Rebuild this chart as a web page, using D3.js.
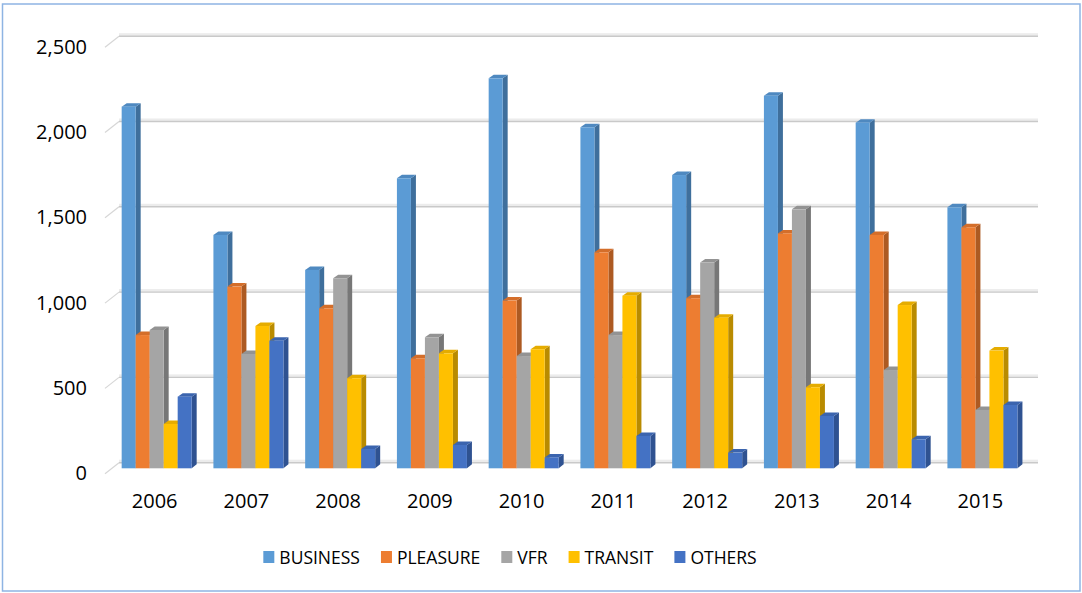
<!DOCTYPE html>
<html>
<head>
<meta charset="utf-8">
<script src="https://cdn.jsdelivr.net/npm/d3@7"></script>
<style>
  html, body { margin: 0; padding: 0; background: #ffffff; }
  svg { display: block; }
  text { font-family: "Open Sans", "Noto Sans", sans-serif; fill: #000000; }
</style>
</head>
<body>
<svg id="chart" width="1082" height="593"></svg>
<script>
// ---- data ----
const years = ["2006","2007","2008","2009","2010","2011","2012","2013","2014","2015"];
const seriesNames = ["BUSINESS","PLEASURE","VFR","TRANSIT","OTHERS"];
const business = [2120, 1368, 1163, 1700, 2286, 1999, 1719, 2184, 2026, 1530];
const pleasure = [781, 1065, 938, 645, 983, 1266, 997, 1377, 1368, 1413];
const vfr      = [811, 670, 1114, 768, 658, 781, 1206, 1518, 576, 342];
const transit  = [260, 834, 528, 674, 698, 1012, 883, 475, 957, 690];
const others   = [420, 748, 113, 137, 64, 190, 92, 307, 170, 371];
const yTicks   = [0, 500, 1000, 1500, 2000, 2500];

const seriesValues = [business, pleasure, vfr, transit, others];
const frontColors = ["#5B9BD5", "#ED7D31", "#A5A5A5", "#FFC000", "#4472C4"];
const sideColors  = ["#3F6F9C", "#AD5A22", "#777777", "#B98B00", "#2F5291"];
const topColors   = ["#4F89C0", "#D46E2A", "#939393", "#E5AC00", "#3B64AE"];

const svg = d3.select("#chart");

// outer border
svg.append("rect")
  .attr("x", 2.5).attr("y", 4).attr("width", 1077.5).attr("height", 587)
  .attr("fill", "none").attr("stroke", "#8EB4E3").attr("stroke-width", 1.5);

// ---- geometry ----
const depthX = 5, depthY = 3.5;        // bar depth projection
const wallDX = 14, wallDY = 11;        // floor depth projection
const baseFront = 468.3;               // bar front base

// value scale on back wall
const yBack = d3.scaleLinear().domain([0, 2500]).range([462.7, 36.2]);
const yFront = v => yBack(v) + (baseFront - yBack(0));

const x0 = d3.scaleBand().domain(years).range([110.8, 1028.3])
  .paddingInner(0.237).paddingOuter(0.1185);
const x1 = d3.scaleBand().domain(seriesNames).range([0, x0.bandwidth()]).padding(0);

const wallLeft = 119, wallRight = 1038;

// gridlines on back wall + left diagonal ticks
const grid = svg.append("g");
yTicks.forEach(t => {
  const yb = yBack(t);
  grid.append("rect")
    .attr("x", wallLeft).attr("y", yb - 3).attr("width", wallRight - wallLeft).attr("height", 3)
    .attr("fill", "#ececec");
  grid.append("line")
    .attr("x1", wallLeft).attr("x2", wallRight).attr("y1", yb).attr("y2", yb)
    .attr("stroke", "#c9c9c9").attr("stroke-width", 1.4);
  grid.append("line")
    .attr("x1", wallLeft - wallDX).attr("y1", yb + wallDY)
    .attr("x2", wallLeft).attr("y2", yb)
    .attr("stroke", "#d6d6d6").attr("stroke-width", 1.2);
});

// y labels via axis
const yLabelScale = d3.scaleLinear().domain([0, 2500]).range([yBack(0) + wallDY - 1.5, yBack(2500) + wallDY - 1]);
const yAxis = d3.axisLeft(yLabelScale).tickValues(yTicks).tickFormat(d3.format(",")).tickSize(0).tickPadding(0);
const yg = svg.append("g").attr("transform", "translate(87,0)").call(yAxis);
yg.select(".domain").remove();
yg.selectAll("text").attr("font-size", 20).attr("font-family", "'Open Sans', sans-serif").attr("fill", "#000").attr("dy", "0.36em");

// bars
const bars = svg.append("g");
years.forEach((yr, i) => {
  seriesNames.forEach((s, j) => {
    const v = seriesValues[j][i];
    const bx = x0(yr) + x1(s);
    const bw = x1.bandwidth();
    const yt = yFront(v);
    const yb = baseFront;
    const g = bars.append("g");
    // side face
    g.append("path")
      .attr("d", `M${bx + bw},${yt} L${bx + bw + depthX},${yt - depthY} L${bx + bw + depthX},${yb - depthY - 0.5} L${bx + bw},${yb} Z`)
      .attr("fill", sideColors[j]);
    // top face
    g.append("path")
      .attr("d", `M${bx},${yt} L${bx + depthX},${yt - depthY} L${bx + bw + depthX},${yt - depthY} L${bx + bw},${yt} Z`)
      .attr("fill", topColors[j]);
    // front face
    g.append("rect")
      .attr("x", bx).attr("y", yt).attr("width", bw).attr("height", yb - yt)
      .attr("fill", frontColors[j]);
  });
});

// x labels via axis
const xAxis = d3.axisBottom(x0).tickSize(0).tickPadding(0);
const xg = svg.append("g").attr("transform", "translate(-2,508)").call(xAxis);
xg.select(".domain").remove();
xg.selectAll("text").attr("font-size", 20).attr("font-family", "'Open Sans', sans-serif").attr("fill", "#000").attr("dy", 0).attr("y", 0);

// legend
const legend = svg.append("g");
let lx = 0;
seriesNames.forEach((s, j) => {
  const it = legend.append("g");
  it.append("rect").attr("x", 0).attr("y", 551).attr("width", 11).attr("height", 12).attr("fill", frontColors[j]);
  const t = it.append("text").attr("x", 16).attr("y", 564.3).attr("font-size", 17.5).text(s);
  const w = t.node().getComputedTextLength();
  it.attr("transform", `translate(${lx},0)`);
  lx += 16 + w + 21;
});
const totalW = lx - 21;
legend.attr("transform", `translate(${510 - totalW / 2},0)`);
</script>
</body>
</html>
